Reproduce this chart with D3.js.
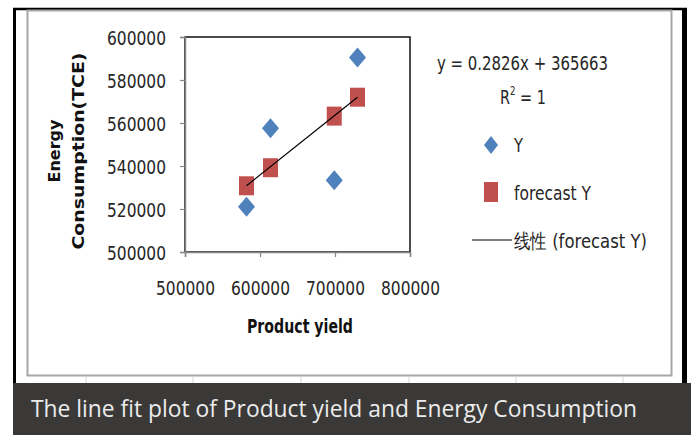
<!DOCTYPE html>
<html>
<head>
<meta charset="utf-8">
<script src="https://cdn.jsdelivr.net/npm/d3@7"></script>
<style>
  body { margin: 0; background: #fff; }
  svg { display: block; }
  .tick text { font-family: "DejaVu Sans", sans-serif; font-size: 20px; fill: #262626; }
</style>
</head>
<body>
<svg id="chart"></svg>
<script>
// data
const productYield = [582000, 614000, 699000, 730000];
const energyY = [521000, 557600, 533400, 590500];
const forecastY = [530800, 539200, 563200, 572000];
const xTicks = [500000, 600000, 700000, 800000];
const yTicks = [500000, 520000, 540000, 560000, 580000, 600000];
const equationText = "y = 0.2826x + 365663";
const legendNames = ["Y", "forecast Y", "线性 (forecast Y)"];
const caption = "The line fit plot of Product yield and Energy Consumption";

const width = 691;
const height = 435;
const plot = { left: 185, right: 410, top: 37, bottom: 252 };
const labelFont = "'DejaVu Sans', sans-serif";
const textColor = "#262626";

const svg = d3.select("#chart")
  .attr("width", width)
  .attr("height", height);

// squeezed text, the picture is stretched upward so the glyphs look narrow
function label(x, y, str, size, len, opts = {}) {
  const t = svg.append("text")
    .attr("x", x).attr("y", y)
    .attr("text-anchor", opts.anchor || "start")
    .style("font-family", opts.font || labelFont)
    .style("font-size", size + "px")
    .style("font-weight", opts.bold ? "bold" : "normal")
    .attr("fill", opts.fill || textColor)
    .text(str);
  if (len) t.attr("textLength", len).attr("lengthAdjust", "spacingAndGlyphs");
  return t;
}

// outer frame
svg.append("rect").attr("x", 0).attr("y", 0).attr("width", width).attr("height", height).attr("fill", "#fff");
svg.append("line").attr("x1", 13).attr("x2", 687).attr("y1", 9).attr("y2", 9).attr("stroke", "#000").attr("stroke-width", 2.5);
svg.append("line").attr("x1", 14.5).attr("x2", 14.5).attr("y1", 8).attr("y2", 384).attr("stroke", "#000").attr("stroke-width", 3);
svg.append("line").attr("x1", 684.5).attr("x2", 684.5).attr("y1", 8).attr("y2", 384).attr("stroke", "#000").attr("stroke-width", 5);

// chart area
svg.append("rect")
  .attr("x", 27.5).attr("y", 10.5).attr("width", 644).attr("height", 365)
  .attr("fill", "#fff").attr("stroke", "#a6a6a6").attr("stroke-width", 2);

// table lines below chart
const cellLines = [86, 193, 301, 409, 516, 623];
cellLines.forEach(x => {
  svg.append("line").attr("x1", x).attr("x2", x).attr("y1", 377).attr("y2", 383)
    .attr("stroke", "#d4d4d4").attr("stroke-width", 1);
});

// caption bar
svg.append("rect").attr("x", 13).attr("y", 383).attr("width", width - 13).attr("height", height - 383).attr("fill", "#3a3937");
label(31, 417, caption, 23, 606, { font: "'Open Sans', sans-serif", fill: "#ececec" });

const xScale = d3.scaleLinear().domain([500000, 800000]).range([plot.left, plot.right]);
const yScale = d3.scaleLinear().domain([500000, 600000]).range([plot.bottom, plot.top]);

// plot area border
svg.append("rect")
  .attr("x", plot.left).attr("y", plot.top)
  .attr("width", plot.right - plot.left).attr("height", plot.bottom - plot.top)
  .attr("fill", "none").attr("stroke", "#111").attr("stroke-width", 1.5);

const xAxis = svg.append("g")
  .attr("transform", `translate(0,${plot.bottom})`)
  .call(d3.axisBottom(xScale).tickValues(xTicks).tickSize(5).tickPadding(18).tickFormat(d3.format("d")));

const yAxis = svg.append("g")
  .attr("transform", `translate(${plot.left},0)`)
  .call(d3.axisLeft(yScale).tickValues(yTicks).tickSize(5).tickPadding(18).tickFormat(d3.format("d")));

[xAxis, yAxis].forEach(g => {
  g.select(".domain").attr("stroke", "#868686").attr("stroke-width", 1.5);
  g.selectAll(".tick line").attr("stroke", "#868686").attr("stroke-width", 1.2);
  g.selectAll(".tick text").attr("textLength", 59).attr("lengthAdjust", "spacingAndGlyphs");
});
yAxis.selectAll(".tick text").attr("x", -19).attr("dy", "0.38em");
xAxis.selectAll(".tick text").attr("y", 43).attr("dy", 0);

// axis titles
label(300, 333, "Product yield", 20, 106, { anchor: "middle", bold: true, fill: "#111" });

const yTitle = svg.append("text")
  .attr("transform", "translate(0,151) rotate(-90)")
  .attr("text-anchor", "middle")
  .style("font-family", labelFont)
  .style("font-weight", "bold")
  .style("font-size", "16px")
  .attr("fill", "#111");
yTitle.append("tspan").attr("x", 0).attr("y", 60).text("Energy");
yTitle.append("tspan").attr("x", 0).attr("y", 84).attr("textLength", 197).attr("lengthAdjust", "spacingAndGlyphs").text("Consumption(TCE)");

// marker shapes (slightly tall, as in the picture)
const diamond = (w, h) => `M0,${-h}L${w},0L0,${h}L${-w},0Z`;
const square = (w, h) => `M${-w},${-h}H${w}V${h}H${-w}Z`;

// trend line through forecast points
const line = d3.line().x(d => xScale(d[0])).y(d => yScale(d[1]));
const trend = [
  [productYield[0], forecastY[0]],
  [productYield[productYield.length - 1], forecastY[forecastY.length - 1]]
];

svg.append("g").selectAll("path")
  .data(productYield.map((x, i) => [x, forecastY[i]]))
  .join("path")
  .attr("transform", d => `translate(${xScale(d[0])},${yScale(d[1])})`)
  .attr("d", square(7.5, 9.5))
  .attr("fill", "#c0504d");

svg.append("path")
  .datum(trend)
  .attr("fill", "none")
  .attr("stroke", "#000")
  .attr("stroke-width", 1.2)
  .attr("d", line);

svg.append("g").selectAll("path")
  .data(productYield.map((x, i) => [x, energyY[i]]))
  .join("path")
  .attr("transform", d => `translate(${xScale(d[0])},${yScale(d[1])})`)
  .attr("d", diamond(8.5, 10))
  .attr("fill", "#4f81bd");

// equation and legend
label(437, 70, equationText, 20, 171);

// R² as one text, squeezed like the rest
const r2 = svg.append("text")
  .attr("transform", "translate(500,104) scale(0.72,1)")
  .style("font-family", labelFont)
  .style("font-size", "20px")
  .attr("fill", textColor);
r2.append("tspan").text("R");
r2.append("tspan").attr("dy", -9).style("font-size", "12px").text("2");
r2.append("tspan").attr("dy", 9).text(" = 1");

const legend = svg.append("g").attr("transform", "translate(491,0)");
legend.append("path").attr("transform", "translate(0,145)").attr("d", diamond(7, 9)).attr("fill", "#4f81bd");
legend.append("path").attr("transform", "translate(0,192)").attr("d", square(7, 10)).attr("fill", "#c0504d");
legend.append("line").attr("x1", -19).attr("x2", 21).attr("y1", 240).attr("y2", 240).attr("stroke", "#000").attr("stroke-width", 1.2);

const legendY = [152, 200, 248];
const legendLen = [9, 77, 133];
legendNames.forEach((name, i) => {
  label(491 + 23, legendY[i], name, 20, legendLen[i]);
});
</script>
</body>
</html>
